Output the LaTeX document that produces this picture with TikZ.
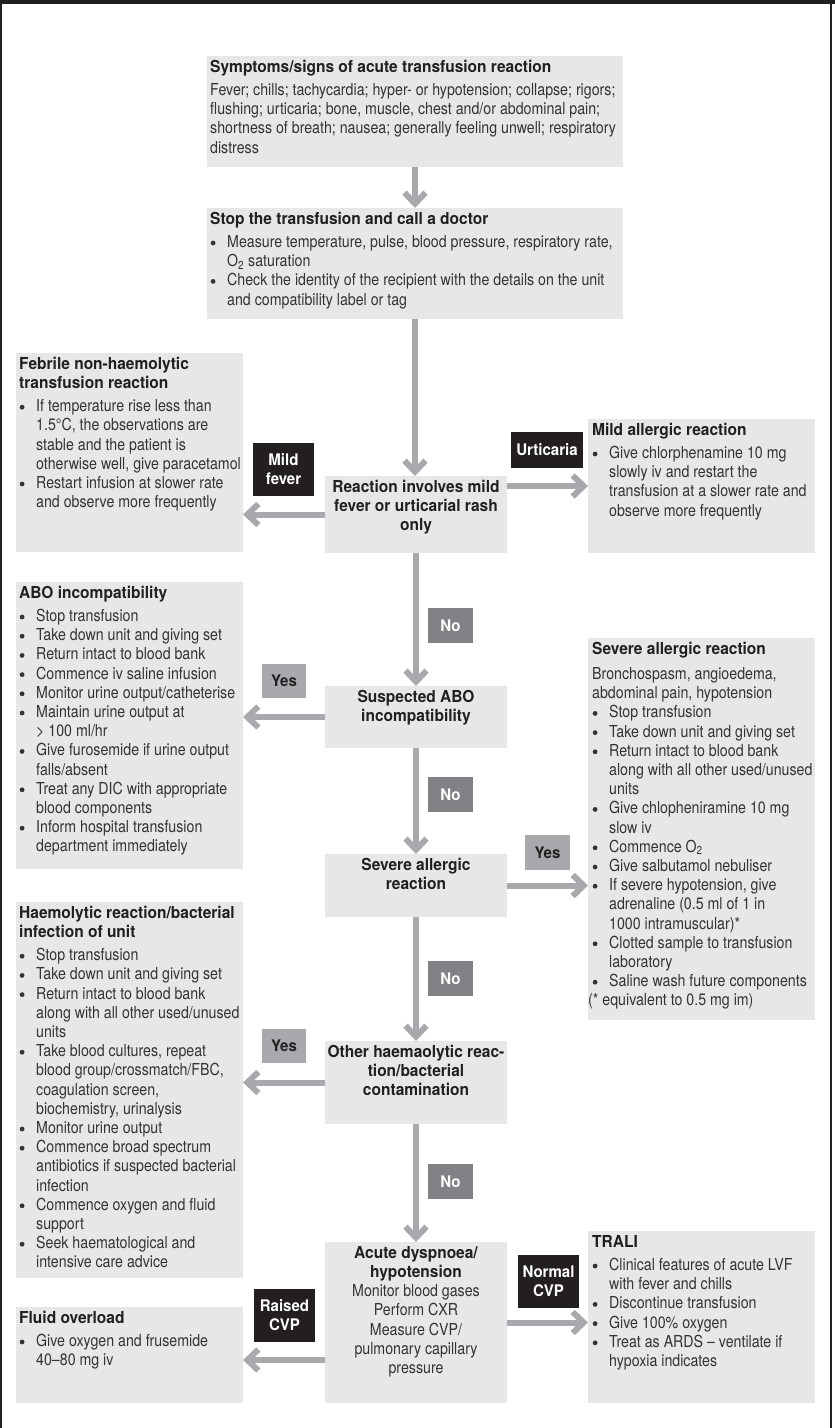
\documentclass[tikz,border=0pt]{standalone}
\usepackage{fontspec}
\setmainfont{TeX Gyre Heros}[FakeStretch=0.86]
\newfontfamily\headfont{TeX Gyre Heros}[FakeStretch=0.94]
\usetikzlibrary{arrows.meta,calc}

\definecolor{panelfill}{HTML}{E6E7E8}
\definecolor{arrowgray}{HTML}{A7A9AC}
\definecolor{nogray}{HTML}{808285}
\definecolor{ink}{HTML}{231F20}
\definecolor{bodyink}{HTML}{333333}

\newcommand\hd{\headfont\bfseries\color{ink}}
% list bullet: a small filled dot followed by the hanging indent
\newcommand\bl{\makebox[17pt][l]{\hspace{0.5pt}\tikz[x=1pt,y=1pt,baseline=0pt]\fill[bodyink] (2.6,4.4) circle[radius=2.4];}}
\newcommand\ind{\hspace*{17pt}}
\newcommand\fs{\rule{0pt}{16pt}}

\begin{document}
\begin{tikzpicture}[x=1pt,y=-1pt,
  panel/.style={fill=panelfill, draw=none, inner sep=0pt, outer sep=0pt, anchor=north west},
  txt/.style={anchor=north west, align=left, inner sep=0pt, text=bodyink,
    font=\fontsize{16.5}{19.2}\selectfont},
  ctxt/.style={anchor=north, align=center, inner sep=0pt, text=bodyink,
    font=\fontsize{16.5}{19.2}\selectfont},
  tag/.style={inner sep=0pt, outer sep=0pt, anchor=north west, align=center,
    font=\headfont\bfseries\fontsize{16}{19}\selectfont},
  tagdark/.style={tag, fill=ink, text=white},
  tagno/.style={tag, fill=nogray, text=white},
  tagyes/.style={tag, fill=arrowgray, text=ink},
  flow/.style={draw=arrowgray, line width=6pt,
    -{Straight Barb[length=11pt,width=21pt,line width=6pt]}}
]
\useasboundingbox (0,0) rectangle (835,1428);

% frame
\fill[ink] (0,0) rectangle (835,4);
\fill[ink] (0,0) rectangle (1.5,1428);
\fill[ink] (829.5,0) rectangle (831.5,1428);

% panels
\node[panel, minimum width=416pt, minimum height=111pt] (sym)   at (207,56)   {};
\node[panel, minimum width=416pt, minimum height=111pt] (stop)  at (207,208)  {};
\node[panel, minimum width=182pt, minimum height=77pt]  (mild)  at (325,476)  {};
\node[panel, minimum width=227pt, minimum height=199pt] (feb)   at (16,353)   {};
\node[panel, minimum width=227pt, minimum height=134pt] (mall)  at (588,419)  {};
\node[panel, minimum width=227pt, minimum height=287pt] (abo)   at (16,582)   {};
\node[panel, minimum width=182pt, minimum height=62pt]  (sabo)  at (325,686)  {};
\node[panel, minimum width=182pt, minimum height=63pt]  (sev)   at (325,854)  {};
\node[panel, minimum width=227pt, minimum height=382pt] (sevr)  at (588,638)  {};
\node[panel, minimum width=227pt, minimum height=376pt] (hae)   at (16,902)   {};
\node[panel, minimum width=182pt, minimum height=83pt]  (oth)   at (325,1041) {};
\node[panel, minimum width=182pt, minimum height=161pt] (acu)   at (325,1242) {};
\node[panel, minimum width=227pt, minimum height=96pt]  (flu)   at (16,1307)  {};
\node[panel, minimum width=227pt, minimum height=172pt] (trali) at (588,1231) {};

% connectors
\draw[flow] (sym.south) -- (stop.north);
\draw[flow] (stop.south) -- (stop.south |- mild.north);
\draw[flow] (mild.south) -- (sabo.north);
\draw[flow] (sabo.south) -- (sev.north);
\draw[flow] (sev.south) -- (oth.north);
\draw[flow] (oth.south) -- (acu.north);
\draw[flow] (mild.west) -- (mild.west -| feb.east);
\draw[flow] (mild.east |- mall.west) -- (mall.west);
\draw[flow] (sabo.west) -- (sabo.west -| abo.east);
\draw[flow] (sev.east) -- (sev.east -| sevr.west);
\draw[flow] (oth.west) -- (oth.west -| hae.east);
\draw[flow] ([yshift=-5pt]acu.west |- flu.east) -- ([yshift=-5pt]flu.east);
\draw[flow] (acu.east) -- (acu.east -| trali.west);

% branch tags
\node[tagdark, minimum width=61pt, minimum height=53pt] (mfev) at (253,443)  {Mild\\fever};
\node[tagdark, minimum width=72pt, minimum height=36pt] (urt)  at (511,432)  {Urticaria};
\node[tagyes,  minimum width=44pt, minimum height=34pt] (yes1) at (262,664)  {Yes};
\node[tagno,   minimum width=45pt, minimum height=35pt] (no1)  at (428,608)  {No};
\node[tagno,   minimum width=45pt, minimum height=35pt] (no2)  at (428,777)  {No};
\node[tagyes,  minimum width=45pt, minimum height=35pt] (yes2) at (525,835)  {Yes};
\node[tagno,   minimum width=45pt, minimum height=35pt] (no3)  at (428,961)  {No};
\node[tagyes,  minimum width=44pt, minimum height=34pt] (yes3) at (262,1029) {Yes};
\node[tagno,   minimum width=45pt, minimum height=35pt] (no4)  at (428,1164) {No};
\node[tagdark, minimum width=61pt, minimum height=53pt] (rcvp) at (254,1289) {Raised\\CVP};
\node[tagdark, minimum width=61pt, minimum height=53pt] (ncvp) at (518,1255) {Normal\\CVP};

% panel texts
\node[txt] (symT) at (210,56) {\fs{\hd Symptoms/signs of acute transfusion reaction}\\[4pt]
Fever; chills; tachycardia; hyper- or hypotension; collapse; rigors;\\
flushing; urticaria; bone, muscle, chest and/or abdominal pain;\\
shortness of breath; nausea; generally feeling unwell; respiratory\\
distress};

\node[txt] (stopT) at (210,208) {\fs{\hd Stop the transfusion and call a doctor}\\[4pt]
\bl Measure temperature, pulse, blood pressure, respiratory rate,\\
\ind O\textsubscript{2} saturation\\
\bl Check the identity of the recipient with the details on the unit\\
\ind and compatibility label or tag};

\node[ctxt] (mildT) at (mild.north) {\fs{\hd Reaction involves mild}\\{\hd fever or urticarial rash}\\{\hd only}};

\node[txt] (febT) at (19,353) {\fs{\hd Febrile non-haemolytic}\\{\hd transfusion reaction}\\[4pt]
\bl If temperature rise less than\\
\ind 1.5°C, the observations are\\
\ind stable and the patient is\\
\ind otherwise well, give paracetamol\\
\bl Restart infusion at slower rate\\
\ind and observe more frequently};

\node[txt] (mallT) at (592,419) {\fs{\hd Mild allergic reaction}\\[4pt]
\bl Give chlorphenamine 10 mg\\
\ind slowly iv and restart the\\
\ind transfusion at a slower rate and\\
\ind observe more frequently};

\node[txt] (aboT) at (19,582) {\fs{\hd ABO incompatibility}\\[4pt]
\bl Stop transfusion\\
\bl Take down unit and giving set\\
\bl Return intact to blood bank\\
\bl Commence iv saline infusion\\
\bl Monitor urine output/catheterise\\
\bl Maintain urine output at\\
\ind > 100 ml/hr\\
\bl Give furosemide if urine output\\
\ind falls/absent\\
\bl Treat any DIC with appropriate\\
\ind blood components\\
\bl Inform hospital transfusion\\
\ind department immediately};

\node[ctxt] (saboT) at (sabo.north) {\fs{\hd Suspected ABO}\\{\hd incompatibility}};

\node[ctxt] (sevT) at (sev.north) {\fs{\hd Severe allergic}\\{\hd reaction}};

\node[txt] (sevrT) at (592,638) {\fs{\hd Severe allergic reaction}\\[6pt]
Bronchospasm, angioedema,\\
abdominal pain, hypotension\\
\bl Stop transfusion\\
\bl Take down unit and giving set\\
\bl Return intact to blood bank\\
\ind along with all other used/unused\\
\ind units\\
\bl Give chlopheniramine 10 mg\\
\ind slow iv\\
\bl Commence O\textsubscript{2}\\
\bl Give salbutamol nebuliser\\
\bl If severe hypotension, give\\
\ind adrenaline (0.5 ml of 1 in\\
\ind 1000 intramuscular)*\\
\bl Clotted sample to transfusion\\
\ind laboratory\\
\bl Saline wash future components\\
\hspace*{-4pt}(* equivalent to 0.5 mg im)};

\node[txt] (haeT) at (19,902) {\fs{\hd Haemolytic reaction/bacterial}\\{\hd infection of unit}\\[4pt]
\bl Stop transfusion\\
\bl Take down unit and giving set\\
\bl Return intact to blood bank\\
\ind along with all other used/unused\\
\ind units\\
\bl Take blood cultures, repeat\\
\ind blood group/crossmatch/FBC,\\
\ind coagulation screen,\\
\ind biochemistry, urinalysis\\
\bl Monitor urine output\\
\bl Commence broad spectrum\\
\ind antibiotics if suspected bacterial\\
\ind infection\\
\bl Commence oxygen and fluid\\
\ind support\\
\bl Seek haematological and\\
\ind intensive care advice};

\node[ctxt] (othT) at (oth.north) {\fs{\hd Other haemaolytic reac-}\\{\hd tion/bacterial}\\{\hd contamination}};

\node[ctxt] (acuT) at (acu.north) {\fs{\hd Acute dyspnoea/}\\{\hd hypotension}\\
Monitor blood gases\\Perform CXR\\Measure CVP/\\pulmonary capillary\\pressure};

\node[txt] (fluT) at (19,1307) {\fs{\hd Fluid overload}\\[4pt]
\bl Give oxygen and frusemide\\
\ind 40–80 mg iv};

\node[txt] (traliT) at (592,1231) {\fs{\hd TRALI}\\[4pt]
\bl Clinical features of acute LVF\\
\ind with fever and chills\\
\bl Discontinue transfusion\\
\bl Give 100\% oxygen\\
\bl Treat as ARDS – ventilate if\\
\ind hypoxia indicates};

\end{tikzpicture}
\end{document}
